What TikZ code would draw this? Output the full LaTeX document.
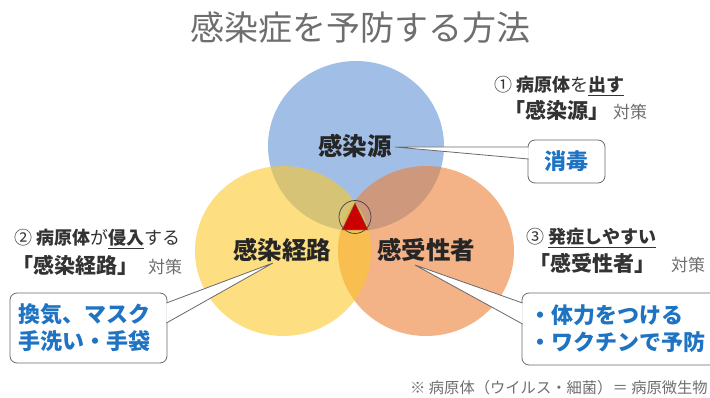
\documentclass[tikz,border=0pt]{standalone}
\usepackage{fontspec}
\setmainfont{Noto Sans CJK JP}
\usetikzlibrary{shapes.geometric,calc}

\definecolor{srcblue}{RGB}{97,147,213}
\definecolor{routeyellow}{RGB}{252,200,43}
\definecolor{hostorange}{RGB}{237,127,55}
\definecolor{tipblue}{RGB}{30,115,195}
\definecolor{notegray}{RGB}{110,110,110}
\definecolor{linegray}{RGB}{105,105,105}

\tikzset{
  ring/.style={ellipse, minimum width=176pt, minimum height=170pt, inner sep=0pt, fill opacity=0.6},
  biglabel/.style={font=\fontsize{24.5}{28}\selectfont\bfseries, text=black!85, inner sep=0pt},
  note/.style={anchor=west, inner sep=0pt, text=black!80, font=\fontsize{18}{22}\selectfont},
  tipbox/.style={draw=linegray, line width=0.8pt, fill=white, rounded corners=7pt, text=tipblue, font=\fontsize{22}{27}\selectfont\bfseries},
  wedge/.style={draw=linegray, line width=0.8pt}
}
\newcommand{\bigq}[1]{{\fontsize{21}{24}\selectfont\bfseries #1}}
\newcommand{\taisaku}{{\fontsize{17}{20}\selectfont\color{notegray}対策}}

\begin{document}
\begin{tikzpicture}[x=1pt,y=-1pt]
\useasboundingbox (0,0) rectangle (710,398);
\clip (0,0) rectangle (710,398);

\node[text=notegray, font=\fontsize{34}{40}\selectfont] (title) at (360,28) {感染症を予防する方法};

% three circles
\node[ring, fill=srcblue] (src) at (356,146) {};
\node[ring, fill=hostorange] (host) at (426,251) {};
\node[ring, fill=routeyellow] (route) at (283,251) {};
\node[biglabel] (srclbl) at (355,146) {感染源};
\node[biglabel] (routelbl) at (282,250) {感染経路};
\node[biglabel] (hostlbl) at (426,250) {感受性者};

% mark in the middle
\node[ellipse, draw=black!75, line width=0.7pt, minimum width=32pt, minimum height=33pt, inner sep=0pt] (mid) at (355,217) {};
\draw[fill=red!80!black, draw=black!60, line width=0.5pt] ($(mid)+(0,-14)$) -- ($(mid)+(-13,13)$) -- ($(mid)+(13,13)$) -- cycle;

% notes
\node[note] (note1a) at (494,86) {① \textbf{病原体}を\underline{\textbf{出す}}};
\node[note] (note1b) at (504,110) {\bigq{「感染源」}\hspace{4pt}\taisaku};
\node[note] (note2a) at (14,239) {② \textbf{病原体}が\underline{\textbf{侵入}}する};
\node[note] (note2b) at (12,265) {\bigq{「感染経路」}\hspace{10pt}\taisaku};
\node[note] (note3a) at (526,238) {③ \underline{\textbf{発症しやすい}}};
\node[note] (note3b) at (529,263) {\bigq{「感受性者」}\hspace{16pt}\taisaku};

% callouts
\node[tipbox, minimum width=77pt, minimum height=43pt] (srcbox) at (566.5,161.5) {消毒};
\node[tipbox, align=left, text width=139pt, inner xsep=9pt, minimum height=70pt] (routebox) at (88.5,328) {換気、マスク\\手洗い・手袋};
\node[tipbox, align=left, text width=196pt, inner xsep=7pt, minimum height=72pt] (hostbox) at (627,329) {・体力をつける\\・ワクチンで予防};

\coordinate (srctip) at ($(srclbl.east)+(3,1)$);
\coordinate (routetip) at ($(routelbl.south)+(-9,1)$);
\coordinate (hosttip) at ($(hostlbl.south)+(-11,3)$);
\fill[white] (srctip) -- ($(srcbox.west)+(1,-14.5)$) -- ($(srcbox.west)+(1,-2.5)$) -- cycle;
\draw[wedge] ($(srcbox.west)+(1,-14.5)$) -- (srctip) -- ($(srcbox.west)+(1,-2.5)$);
\fill[white] (routetip) -- ($(routebox.east)+(-1,-25)$) -- ($(routebox.east)+(-1,-5)$) -- cycle;
\draw[wedge] ($(routebox.east)+(-1,-25)$) -- (routetip) -- ($(routebox.east)+(-1,-5)$);
\fill[white] (hosttip) -- ($(hostbox.west)+(1,-26)$) -- ($(hostbox.west)+(1,-5)$) -- cycle;
\draw[wedge] ($(hostbox.west)+(1,-26)$) -- (hosttip) -- ($(hostbox.west)+(1,-5)$);

\node[anchor=west, inner sep=0pt, text=notegray, font=\fontsize{15.3}{18}\selectfont] (foot) at (410,388) {※ 病原体（ウイルス・細菌）＝ 病原微生物};
\end{tikzpicture}
\end{document}
